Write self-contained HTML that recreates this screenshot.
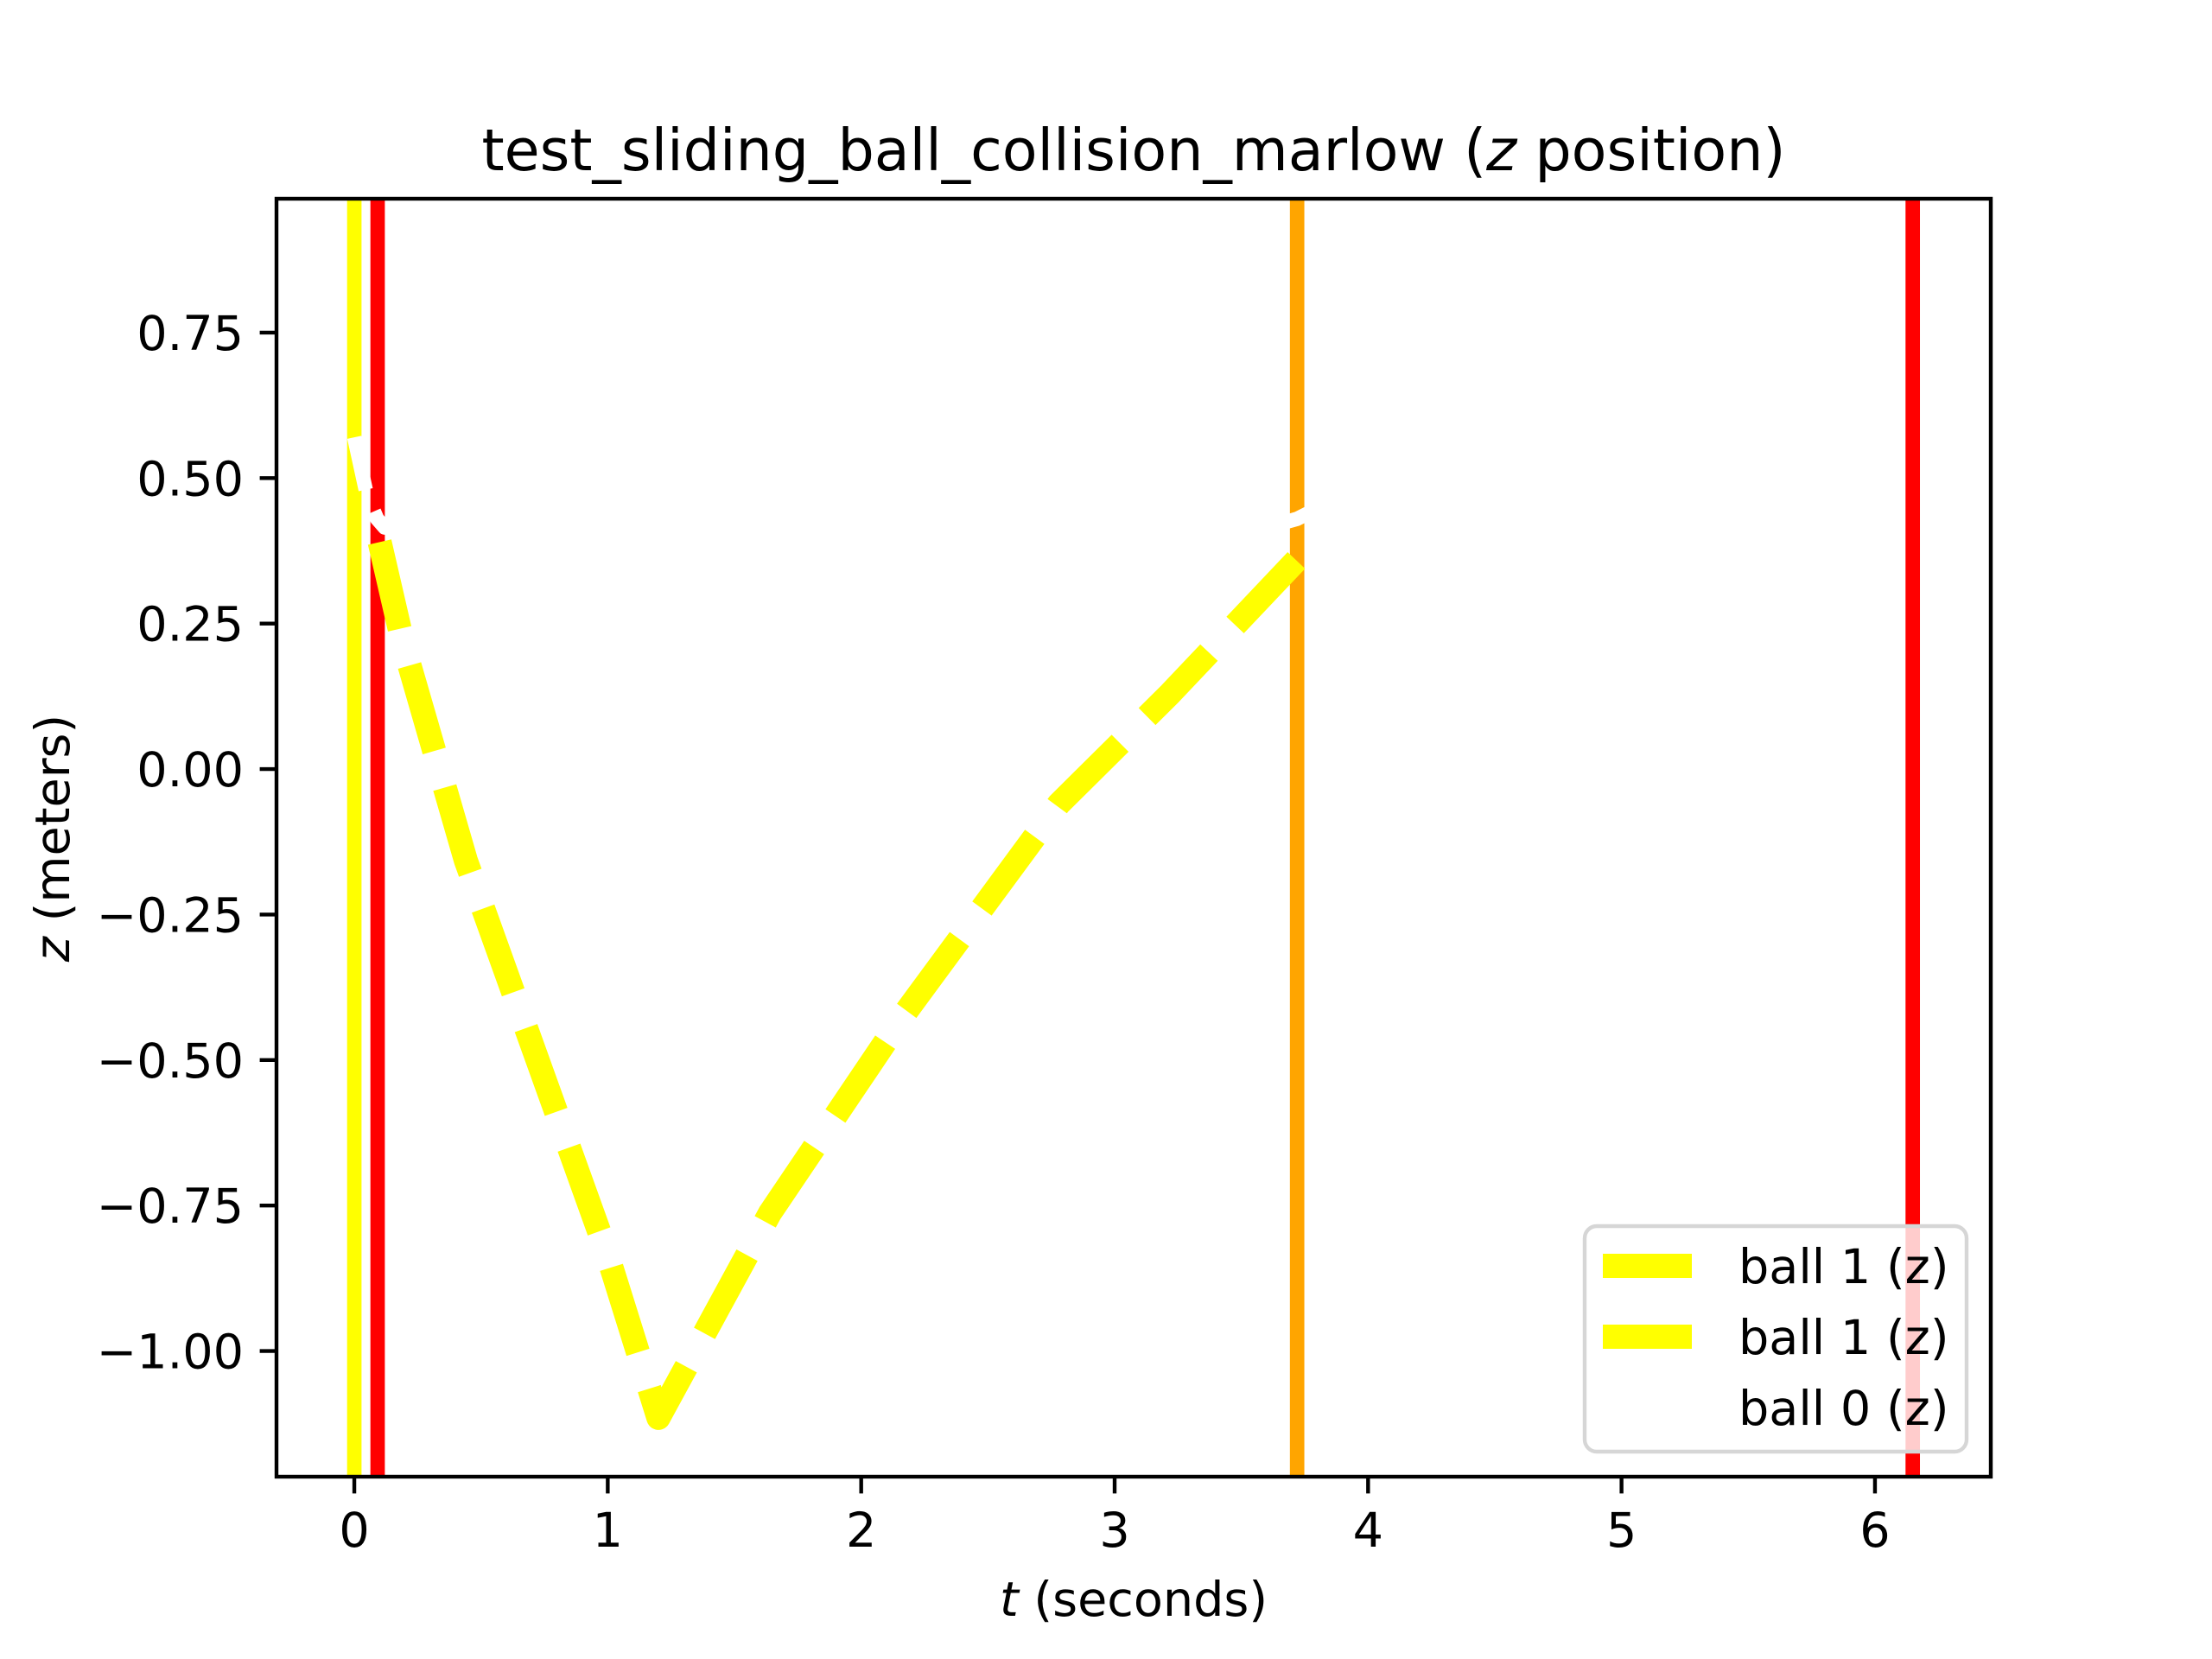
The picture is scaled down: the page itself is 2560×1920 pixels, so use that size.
<!DOCTYPE html>
<html><head><meta charset="utf-8"><style>
html,body{margin:0;padding:0;background:#fff;}
svg{display:block;font-family:"DejaVu Sans","Liberation Sans",sans-serif;}
</style></head><body>
<svg id="chart" width="2560" height="1920" viewBox="0 0 2560 1920" xmlns="http://www.w3.org/2000/svg">
<defs><clipPath id="plotclip"><rect x="320" y="230" width="1984" height="1479"/></clipPath></defs>
<rect x="0" y="0" width="2560" height="1920" fill="#fff"/>
<g id="plot" clip-path="url(#plotclip)"></g>
<g id="axes"></g>
<text x="1312" y="197" font-size="66.7" text-anchor="middle">test_sliding_ball_collision_marlow (<tspan font-style="italic">z</tspan> position)</text>
<text x="1312" y="1870" font-size="55.6" text-anchor="middle"><tspan font-style="italic">t</tspan> (seconds)</text>
<text transform="translate(80,970) rotate(-90)" font-size="55.6" text-anchor="middle"><tspan font-style="italic">z</tspan> (meters)</text>
<g id="legend"></g>
</svg>
<script>
const xTicks = [0, 1, 2, 3, 4, 5, 6];
const xTickLabels = ["0", "1", "2", "3", "4", "5", "6"];
const yTicks = [0.75, 0.5, 0.25, 0, -0.25, -0.5, -0.75, -1.0];
const yTickLabels = ["0.75", "0.50", "0.25", "0.00", "\u22120.25", "\u22120.50", "\u22120.75", "\u22121.00"];
const ball1T = [0.1, 0.19, 0.44, 1.0, 1.2, 1.64, 2.165, 2.78, 3.22, 3.72];
const ball1Z = [0.39, 0.22, -0.157, -0.836, -1.115, -0.763, -0.424, -0.06, 0.13, 0.36];
const ball0T = [0.0, 0.05, 0.09, 0.12, 1.5, 3.6, 3.72, 4.5, 5.8, 6.149];
const ball0Z = [0.57, 0.47, 0.43, 0.415, 0.415, 0.415, 0.43, 0.6, 0.88, 0.88];
const eventTimes = [0.0, 0.092, 3.72, 6.149];
const eventColors = ["#ffff00", "#ff0000", "#ffa500", "#ff0000"];
const legendLabels = ["ball 1 (z)", "ball 1 (z)", "ball 0 (z)"];
const legendColors = ["#ffff00", "#ffff00", "#ffffff"];

const X0=320, X1=2304, Y0=230, Y1=1709;
const xMin=-0.307, xMax=6.457, yMin=-1.216, yMax=0.980;
const sx = v => X0 + (v - xMin) / (xMax - xMin) * (X1 - X0);
const sy = v => Y1 - (v - yMin) / (yMax - yMin) * (Y1 - Y0);
const NS="http://www.w3.org/2000/svg";
function mk(tag, attrs, parent){const e=document.createElementNS(NS,tag);for(const k in attrs)e.setAttribute(k,attrs[k]);parent.appendChild(e);return e;}
const plot=document.getElementById('plot'), axes=document.getElementById('axes'), legend=document.getElementById('legend');

eventTimes.forEach((t,i)=>{
  const l=mk('line',{x1:sx(t),x2:sx(t),y1:Y0-10,y2:Y1+10,stroke:eventColors[i],'stroke-width':16.7},plot);
  
  
});
const p1=mk('polyline',{points:ball1T.map((t,i)=>sx(t)+','+sy(ball1Z[i])).join(' '),fill:'none',stroke:'#ffff00','stroke-width':27.8,'stroke-dasharray':'103 44','stroke-linejoin':'round'},plot);


const p0=mk('polyline',{points:ball0T.map((t,i)=>sx(t)+','+sy(ball0Z[i])).join(' '),fill:'none',stroke:'#ffffff','stroke-width':16.7,'stroke-dasharray':'62 27','stroke-linejoin':'round'},plot);



const frame=mk('rect',{x:X0,y:Y0,width:X1-X0,height:Y1-Y0,fill:'none',stroke:'#000','stroke-width':4.4},axes);


xTicks.forEach((v,i)=>{
  const t=mk('line',{x1:sx(v),x2:sx(v),y1:Y1,y2:Y1+19.4,stroke:'#000','stroke-width':4.4},axes);
  
  
  const lb=mk('text',{x:sx(v),y:1790,'font-size':55.6,'text-anchor':'middle'},axes);
  lb.textContent=xTickLabels[i];
  
  
});
yTicks.forEach((v,i)=>{
  const t=mk('line',{x1:X0-19.4,x2:X0,y1:sy(v),y2:sy(v),stroke:'#000','stroke-width':4.4},axes);
  
  
  const lb=mk('text',{x:282,y:sy(v)+20,'font-size':55.6,'text-anchor':'end'},axes);
  lb.textContent=yTickLabels[i];
  
  
});

const lf=mk('rect',{x:1834,y:1419,width:442,height:261,rx:14,fill:'rgba(255,255,255,0.8)',stroke:'#d6d6d6','stroke-width':4.4},legend);


legendLabels.forEach((s,i)=>{
  const y=1465+i*82;
  const h=mk('line',{x1:1855,x2:1958,y1:y,y2:y,stroke:legendColors[i],'stroke-width':i<2?28:16.7},legend);
  
  
  const t=mk('text',{x:2012,y:y+20,'font-size':55.6},legend);
  t.textContent=s;
  
  
});
</script>
</body></html>
